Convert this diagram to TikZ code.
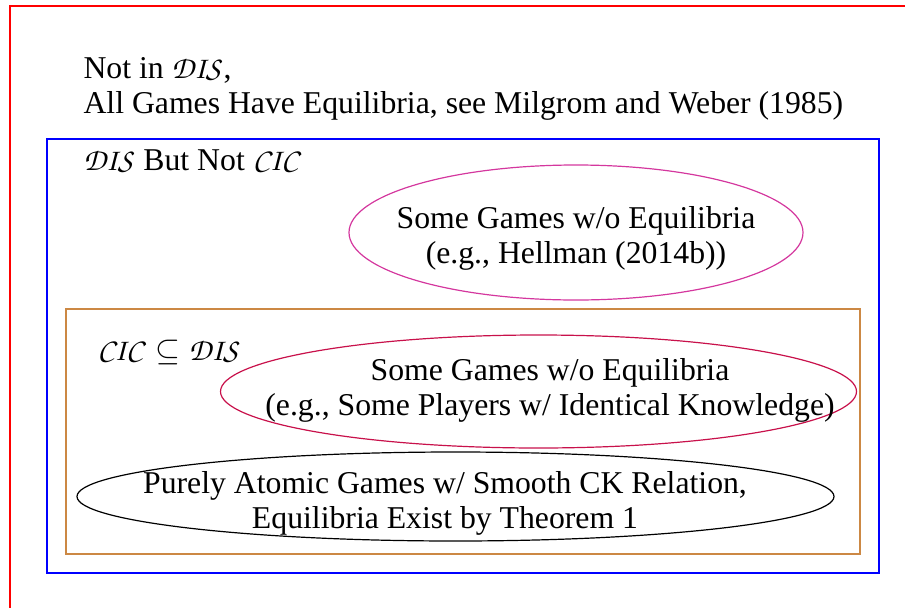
\documentclass[tikz,border=0pt]{standalone}
\usepackage{amsmath,amssymb}
\usepackage{fontspec}
\setmainfont{Liberation Serif}
\DeclareMathAlphabet{\mathpzc}{T1}{pzc}{m}{it}
\usepackage{tikz}
\usepackage{xcolor}
\definecolor{setred}{RGB}{255,0,0}
\definecolor{setblue}{RGB}{0,0,255}
\definecolor{setorange}{RGB}{204,136,68}
\definecolor{egmagenta}{RGB}{212,55,158}
\definecolor{egcrimson}{RGB}{200,17,75}
\newcommand{\DIS}{\ensuremath{\mathpzc{DIS}}}
\newcommand{\CIC}{\ensuremath{\mathpzc{CIC}}}
\tikzset{
  region/.style={line width=.45pt},
  lbl/.style={anchor=base west,inner sep=0pt,font=\fontsize{11.9}{13.1}\selectfont,align=left},
  eqtext/.style={anchor=base,inner sep=0pt,font=\fontsize{11.9}{13.1}\selectfont,align=center}
}

\begin{document}
\begin{tikzpicture}[x=.375pt,y=-.375pt]
        \useasboundingbox (0,0) rectangle (905,608);
        % nested classes
        \draw[region,setred] (10,640) -- (10,6) -- (940,6);
        \draw[region,setblue] (47,139) rectangle (879,573);
        \draw[region,setorange] (66,309) rectangle (860,554);
        % games
        \draw[region,egmagenta] (576,232.5) ellipse [x radius=227,y radius=67.5];
        \draw[region,egcrimson] (538.5,391.5) ellipse [x radius=318,y radius=56.5];
        \draw[region] (455.5,496.5) ellipse [x radius=378.5,y radius=44.5];
        % labels (base = last line)
        \node[lbl] (notdis) at (83,113) {Not in \DIS,\\All Games Have Equilibria, see Milgrom and Weber (1985)};
        \node[lbl] (disnotcic) at (83,170) {\DIS{} But Not \CIC};
        \node[lbl] (cicdis) at (97,360) {$\mathpzc{CIC}\subseteq\mathpzc{DIS}$};
        \node[eqtext] (hellman) at (576,263) {Some Games w/o Equilibria\\(e.g., Hellman (2014b))};
        \node[eqtext] (identical) at (550,415) {Some Games w/o Equilibria\\(e.g., Some Players w/ Identical Knowledge)};
        \node[eqtext] (atomic) at (445,528) {Purely Atomic Games w/ Smooth CK Relation,\\Equilibria Exist by Theorem 1};
\end{tikzpicture}
\end{document}
